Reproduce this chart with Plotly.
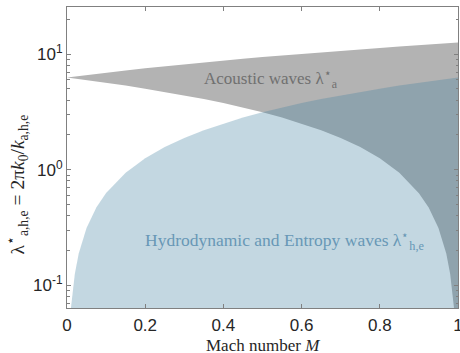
import plotly.graph_objects as go

mach = [0, 0.0016, 0.005, 0.0103, 0.02, 0.03, 0.05, 0.075, 0.1, 0.15, 0.2, 0.25,
        0.3, 0.35, 0.4, 0.45, 0.5, 0.55, 0.6, 0.65, 0.7, 0.75, 0.8, 0.85, 0.9,
        0.925, 0.95, 0.97, 0.98, 0.99, 0.995, 0.9984, 1.0]
hydro_upper = [0.001, 0.01005, 0.0314, 0.0647, 0.1257, 0.1885, 0.3142, 0.4712, 0.6283,
               0.9425, 1.2566, 1.5708, 1.885, 2.199, 2.513, 2.827, 3.142, 3.456, 3.770,
               4.084, 4.398, 4.712, 5.027, 5.341, 5.655, 5.812, 5.969, 6.095, 6.158,
               6.220, 6.252, 6.273, 6.283]
acoustic_lower = [6.283, 6.273, 6.252, 6.219, 6.158, 6.095, 5.969, 5.812, 5.655, 5.341,
                  5.027, 4.712, 4.398, 4.084, 3.770, 3.456, 3.142, 2.827, 2.513, 2.199,
                  1.885, 1.571, 1.257, 0.942, 0.628, 0.471, 0.314, 0.1885, 0.1257,
                  0.0628, 0.0314, 0.0101, 0.001]
acoustic_upper = [6.283, 6.293, 6.315, 6.348, 6.409, 6.472, 6.597, 6.754, 6.912, 7.226,
                  7.540, 7.854, 8.168, 8.482, 8.796, 9.111, 9.425, 9.739, 10.053, 10.367,
                  10.681, 10.996, 11.310, 11.624, 11.938, 12.095, 12.252, 12.378, 12.441,
                  12.503, 12.535, 12.556, 12.566]
floor_value = 0.001

x_ticks = [0, 0.2, 0.4, 0.6, 0.8, 1]
x_ticktext = ["0", "0.2", "0.4", "0.6", "0.8", "1"]
y_ticks = [0.1, 1, 10]
y_ticktext = ["10<sup>-1</sup>", "10<sup>0</sup>", "10<sup>1</sup>"]
y_minor = [0.07, 0.08, 0.09, 0.2, 0.3, 0.4, 0.5, 0.6, 0.7, 0.8, 0.9,
           2, 3, 4, 5, 6, 7, 8, 9, 20]

fig = go.Figure()

fig.add_trace(go.Scatter(
    x=mach + mach[::-1],
    y=acoustic_upper + acoustic_lower[::-1],
    fill="toself", mode="lines", line=dict(width=0),
    fillcolor="rgb(179,179,179)", hoverinfo="skip", showlegend=False))

fig.add_trace(go.Scatter(
    x=mach + [mach[-1], mach[0]],
    y=hydro_upper + [floor_value, floor_value],
    fill="toself", mode="lines", line=dict(width=0),
    fillcolor="rgba(65,128,160,0.316)", hoverinfo="skip", showlegend=False))

serif = "Liberation Serif, Times New Roman, serif"
sans = "Liberation Sans, Arial, sans-serif"
text_dark = "rgb(38,38,38)"

fig.add_annotation(x=0.522, y=0.79, xref="x", yref="y",
                   text="Acoustic waves λ<sup>⋆</sup><sub>a</sub>", showarrow=False,
                   font=dict(family=serif, size=17, color="rgb(112,112,112)"))
fig.add_annotation(x=0.558, y=-0.61, xref="x", yref="y",
                   text="Hydrodynamic and Entropy waves λ<sup>⋆</sup><sub>h,e</sub>",
                   showarrow=False,
                   font=dict(family=serif, size=17.5, color="rgb(104,152,182)"))

fig.add_annotation(x=0.5, y=0, xref="paper", yref="paper", yshift=-37,
                   xanchor="center", yanchor="middle",
                   text="Mach number <i>M</i>", showarrow=False,
                   font=dict(family=serif, size=17, color=text_dark))
fig.add_annotation(x=0, y=0.41, xref="paper", yref="paper", xshift=-50,
                   xanchor="center", yanchor="middle",
                   text="λ<sup>⋆</sup><sub>a,h,e</sub> = 2π<i>k</i><sub>0</sub>/<i>k</i><sub>a,h,e</sub>",
                   textangle=-90, showarrow=False,
                   font=dict(family=serif, size=19.5, color=text_dark))

axis_color = "rgb(128,128,128)"
fig.update_layout(
    width=460, height=353,
    margin=dict(l=67, r=2, t=7, b=45, autoexpand=False),
    plot_bgcolor="white", paper_bgcolor="white",
    xaxis=dict(range=[0, 1], tickvals=x_ticks, ticktext=x_ticktext, automargin=False,
               ticks="inside", ticklen=4, tickcolor=axis_color,
               ticklabeloverflow="allow", ticklabelstandoff=2,
               showline=True, linecolor=axis_color, linewidth=1, mirror="ticks",
               showgrid=False, zeroline=False,
               tickfont=dict(family=sans, size=17, color=text_dark)),
    yaxis=dict(type="log", range=[-1.195, 1.407], tickvals=y_ticks, ticktext=y_ticktext,
               automargin=False, ticklabeloverflow="allow",
               ticks="inside", ticklen=4, tickcolor=axis_color,
               minor=dict(ticks="inside", ticklen=2.5, tickcolor=axis_color,
                          tickvals=y_minor),
               showline=True, linecolor=axis_color, linewidth=1, mirror="ticks",
               showgrid=False, zeroline=False,
               tickfont=dict(family=sans, size=17, color=text_dark)),
)

fig.write_html("out.html", config={"displayModeBar": False},
               post_script="document.body.style.margin='0';document.body.style.overflow='hidden';")
